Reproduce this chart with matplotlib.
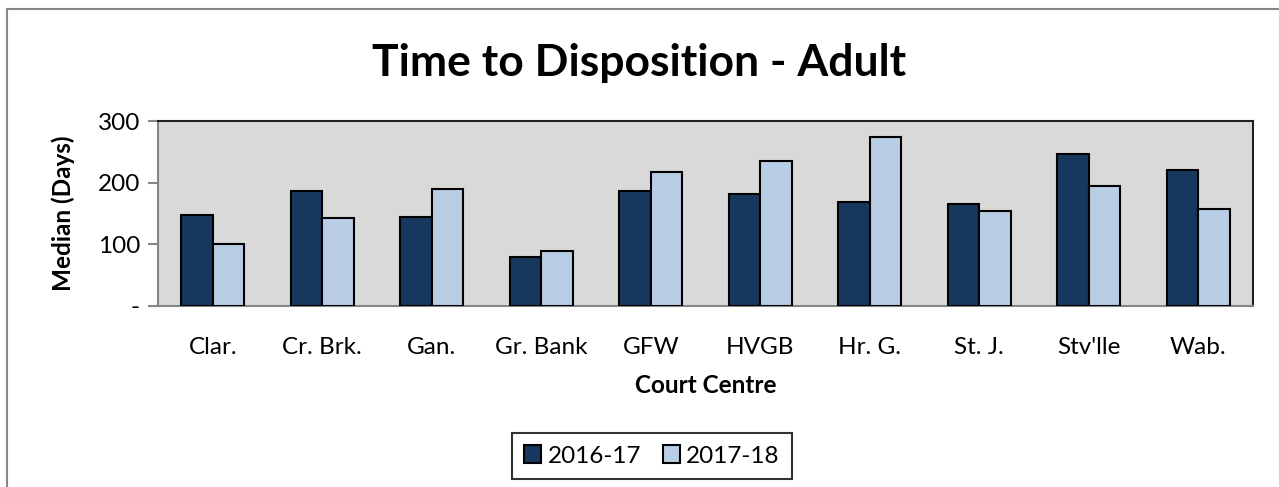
import numpy as np
import matplotlib.pyplot as plt
from matplotlib.patches import Rectangle

# Data
centres = ["Clar.", "Cr. Brk.", "Gan.", "Gr. Bank", "GFW", "HVGB", "Hr. G.", "St. J.", "Stv'lle", "Wab."]
y2016 = [148, 187, 144, 79, 186, 182, 169, 166, 247, 220]
y2017 = [101, 142, 189, 89, 218, 235, 274, 154, 195, 158]
yticks = [0, 100, 200, 300]
ytick_labels = ["-", "100", "200", "300"]

dark = "#17375E"
light = "#B9CDE5"

plt.rcParams['font.family'] = ['Lato', 'DejaVu Sans']

fig = plt.figure(figsize=(12.79, 4.87), dpi=100)
ax = fig.add_axes([158 / 1279, 1 - 306 / 487, 1095 / 1279, 185 / 487])

# outer chart border
fig.patches.append(Rectangle((7 / 1279, -0.1), 1.2, 1 - 9 / 487 + 0.1, transform=fig.transFigure,
                             fill=False, edgecolor="#868686", linewidth=1.5))

x = np.arange(len(centres))
w = 0.287
ax.bar(x - w / 2, y2016, w, color=dark, edgecolor="black", linewidth=1.5, label="2016-17", zorder=3)
ax.bar(x + w / 2, y2017, w, color=light, edgecolor="black", linewidth=1.5, label="2017-18", zorder=3)

ax.set_facecolor("#D9D9D9")
ax.set_xlim(-0.5, len(centres) - 0.5)
ax.set_ylim(0, 300)
ax.set_yticks(yticks)
ax.set_yticklabels(ytick_labels, fontsize=17.5)
ax.set_xticks(x)
ax.set_xticklabels(centres, fontsize=17.5)
ax.tick_params(axis="x", length=0, pad=22)
ax.tick_params(axis="y", length=7, color="#868686", width=1.5, pad=6)
for side in ["left", "bottom"]:
    ax.spines[side].set_color("#868686")
    ax.spines[side].set_linewidth(1.5)
for side in ["top", "right"]:
    ax.spines[side].set_color("#202020")
    ax.spines[side].set_linewidth(1.5)

ax.set_ylabel("Median (Days)", fontsize=17.5, fontweight="bold", labelpad=16)
ax.set_xlabel("Court Centre", fontsize=17.5, fontweight="bold", labelpad=12)
fig.text(0.5, 1 - 63 / 487, "Time to Disposition - Adult", fontsize=32, fontweight="bold",
         ha="center", va="center")

leg = fig.legend(loc="center", bbox_to_anchor=(652 / 1279, 1 - 456 / 487), ncol=2, fontsize=17.5,
                 frameon=True, fancybox=False, edgecolor="black", handlelength=0.7,
                 handleheight=0.7, columnspacing=0.9, handletextpad=0.25, borderpad=0.5)
leg.get_frame().set_linewidth(1.5)

fig.savefig("out.png", dpi=100)
